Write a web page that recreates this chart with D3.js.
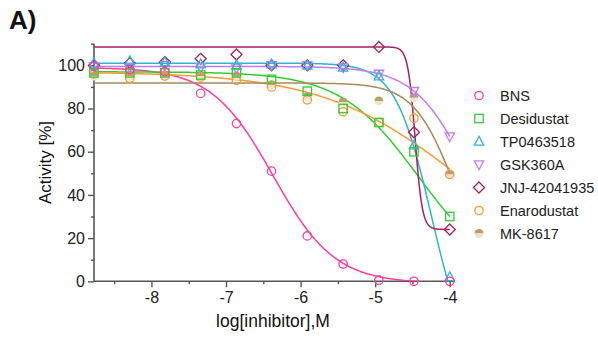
<!DOCTYPE html>
<html>
<head>
<meta charset="utf-8">
<script src="https://cdn.jsdelivr.net/npm/d3@7"></script>
<style>
  body { margin: 0; background: #fff; }
  svg { font-family: "Liberation Sans", Arial, sans-serif; }
</style>
</head>
<body>
<div id="chart"></div>
<script>
// Data: log concentrations (3-fold dilution series) and activity readings
const logConc = [-8.77, -8.29, -7.82, -7.34, -6.86, -6.39, -5.91, -5.43, -4.95, -4.48, -4.0];

const compounds = ["BNS", "Desidustat", "TP0463518", "GSK360A", "JNJ-42041935", "Enarodustat", "MK-8617"];
const bns         = [99.5, 98, 97, 87, 73, 51, 21, 8, 0.5, 0, 0];
const desidustat  = [96.5, 96.5, 96.5, 95.5, 96.5, 93.5, 88, 80, 73.5, 60, 30];
const tp0463518   = [101, 102, 101.5, 100.5, 100, 100.5, 100, 99, 95, 63, 2];
const gsk360a     = [99.5, 99, 100, 99, 98.5, 100, 100, 99, 96, 88, 67];
const jnj42041935 = [100, 101, 101.5, 103, 105, 100, 100, 100, 108.5, 69, 24];
const enarodustat = [96, 94, 95, 94.5, 93, 90, 84, 78.5, 73.5, 75.5, 49.5];
const mk8617      = [95, 95, 95.5, 95, 95, 91, 85.5, 83, 83.5, 85, 49.5];
const activity = [bns, desidustat, tp0463518, gsk360a, jnj42041935, enarodustat, mk8617];

// 4-parameter logistic fit
const fitTop    = [99, 97, 101, 99.5, 108.5, 97, 91.8];
const fitBottom = [-1, 0, -40, 0, 24, 0, 0];
const fitLogIC50 = [-6.37, -4.42, -4.248, -3.736, -4.465, -3.866, -3.95];
const fitHill   = [1.05, 0.83, 1.8, 1.19, 9, 0.47, 1.6];

const colors = ["#ff3d9e", "#33cc33", "#2fb4d2", "#c07ef0", "#a3235e", "#ff9933", "#a8895a"];
const shapes = ["circle", "square", "triUp", "triDown", "diamond", "circle", "half"];

const yTicks = [0, 20, 40, 60, 80, 100];
const yMinor = [10, 30, 50, 70, 90, 110];
const xTicks = [-8, -7, -6, -5, -4];
const xMinor = [-8.5, -7.5, -6.5, -5.5, -4.5];

const width = 598, height = 341;
const margin = {top: 43.7, right: 143, bottom: 59.7, left: 94};

const svg = d3.select("#chart").append("svg")
  .attr("width", width)
  .attr("height", height);

const x = d3.scaleLinear()
  .domain([-8.77, -3.93])
  .range([margin.left, width - margin.right]);
const y = d3.scaleLinear()
  .domain([0, 110])
  .range([height - margin.bottom, margin.top]);

// title
svg.append("text")
  .attr("x", 9).attr("y", 29)
  .attr("font-size", 26).attr("font-weight", "bold")
  .attr("fill", "#111")
  .text("A)");

const axisColor = "#555";

function styleAxis(g) {
  g.select(".domain").remove();
  g.selectAll(".tick line").attr("stroke", axisColor).attr("stroke-width", 1.4);
  g.selectAll(".tick text").attr("fill", "#222").attr("font-size", 16);
}

// y axis
svg.append("g")
  .attr("transform", `translate(${margin.left},0)`)
  .call(d3.axisLeft(y).tickValues(yTicks).tickSize(6).tickPadding(3))
  .call(styleAxis);
svg.append("g")
  .attr("transform", `translate(${margin.left},0)`)
  .call(d3.axisLeft(y).tickValues(yMinor).tickSize(3).tickFormat(""))
  .call(styleAxis);

// x axis (plain hyphen for negatives, like the original)
svg.append("g")
  .attr("transform", `translate(0,${y(0)})`)
  .call(d3.axisBottom(x).tickValues(xTicks).tickSize(6).tickPadding(4).tickFormat(d => String(d)))
  .call(styleAxis);
svg.append("g")
  .attr("transform", `translate(0,${y(0)})`)
  .call(d3.axisBottom(x).tickValues(xMinor).tickSize(3).tickFormat(""))
  .call(styleAxis);

// axis lines
svg.append("line")
  .attr("x1", margin.left).attr("x2", margin.left)
  .attr("y1", y(110)).attr("y2", y(0))
  .attr("stroke", axisColor).attr("stroke-width", 1.6);
svg.append("line")
  .attr("x1", margin.left).attr("x2", x(-3.93))
  .attr("y1", y(0)).attr("y2", y(0))
  .attr("stroke", axisColor).attr("stroke-width", 1.6);

// axis labels
svg.append("text")
  .attr("transform", `translate(51,${y(55)}) rotate(-90)`)
  .attr("text-anchor", "middle")
  .attr("font-size", 17).attr("fill", "#111")
  .text("Activity [%]");
svg.append("text")
  .attr("x", 273).attr("y", 327)
  .attr("text-anchor", "middle")
  .attr("font-size", 17.5).attr("fill", "#111")
  .text("log[inhibitor],M");

// clip for curves
svg.append("clipPath").attr("id", "plot-clip")
  .append("rect")
  .attr("x", margin.left).attr("y", 0)
  .attr("width", x(-3.93) - margin.left)
  .attr("height", y(0));

const fitX = d3.range(-8.77, -3.999, 0.01).concat([-4]);
const line = d3.line().x(d => x(d[0])).y(d => y(d[1]));

function logistic(i, lx) {
  return fitBottom[i] + (fitTop[i] - fitBottom[i]) / (1 + Math.pow(10, fitHill[i] * (lx - fitLogIC50[i])));
}

const curves = svg.append("g").attr("clip-path", "url(#plot-clip)");
compounds.forEach((name, i) => {
  curves.append("path")
    .datum(fitX.map(lx => [lx, logistic(i, lx)]))
    .attr("fill", "none")
    .attr("stroke", colors[i])
    .attr("stroke-width", 1.5)
    .attr("d", line);
});

// marker drawing
function drawMarker(g, shape, color, cx, cy) {
  const s = 4.2;
  if (shape === "circle") {
    g.append("circle").attr("cx", cx).attr("cy", cy).attr("r", s)
      .attr("fill", "none").attr("stroke", color).attr("stroke-width", 1.3);
  } else if (shape === "square") {
    g.append("rect").attr("x", cx - s).attr("y", cy - s)
      .attr("width", 2 * s).attr("height", 2 * s)
      .attr("fill", "none").attr("stroke", color).attr("stroke-width", 1.3);
  } else if (shape === "triUp") {
    g.append("path")
      .attr("d", `M${cx},${cy - s - 1}L${cx + s + 0.5},${cy + s - 0.5}L${cx - s - 0.5},${cy + s - 0.5}Z`)
      .attr("fill", "none").attr("stroke", color).attr("stroke-width", 1.3);
  } else if (shape === "triDown") {
    g.append("path")
      .attr("d", `M${cx},${cy + s + 1}L${cx + s + 0.5},${cy - s + 0.5}L${cx - s - 0.5},${cy - s + 0.5}Z`)
      .attr("fill", "none").attr("stroke", color).attr("stroke-width", 1.3);
  } else if (shape === "diamond") {
    const d = s + 1.3;
    g.append("path")
      .attr("d", `M${cx},${cy - d}L${cx + d},${cy}L${cx},${cy + d}L${cx - d},${cy}Z`)
      .attr("fill", "none").attr("stroke", color).attr("stroke-width", 1.3);
  } else if (shape === "half") {
    const r = s + 0.3;
    g.append("path")
      .attr("d", `M${cx - r},${cy}A${r},${r} 0 0 1 ${cx + r},${cy}Z`)
      .attr("fill", "#b4a06c");
    g.append("path")
      .attr("d", `M${cx - r},${cy}A${r},${r} 0 0 0 ${cx + r},${cy}Z`)
      .attr("fill", "#ebe4cf");
  }
}

// points (drawn last series first so BNS sits on top)
const pts = svg.append("g");
for (let i = compounds.length - 1; i >= 0; i--) {
  activity[i].forEach((v, k) => {
    drawMarker(pts, shapes[i], colors[i], x(logConc[k]), y(v));
  });
}

// legend
const legend = svg.append("g");
compounds.forEach((name, i) => {
  const ly = 95.5 + i * 23;
  drawMarker(legend, shapes[i], colors[i], 479, ly);
  legend.append("text")
    .attr("x", 500).attr("y", ly + 5)
    .attr("font-size", 14.5).attr("fill", "#222")
    .text(name);
});
</script>
</body>
</html>
